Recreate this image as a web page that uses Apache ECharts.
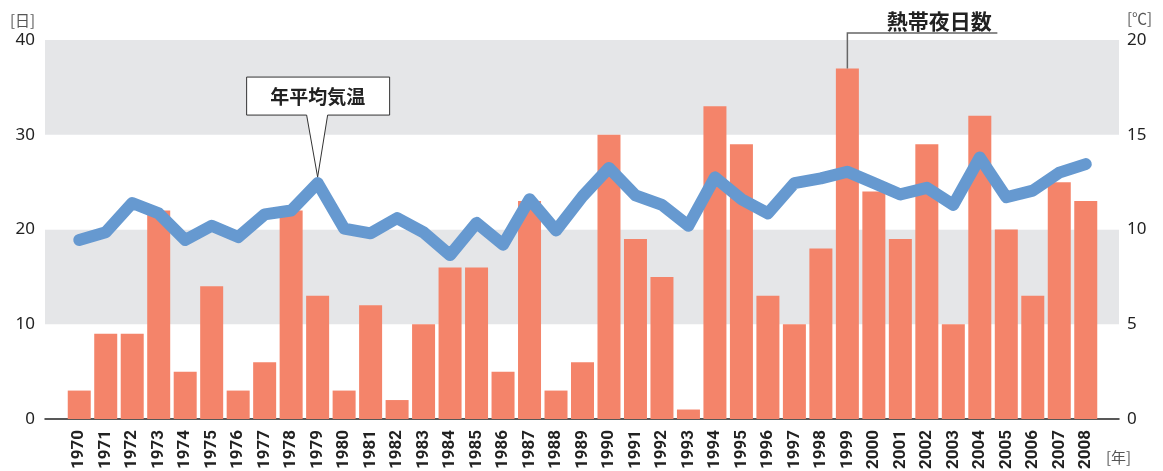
<!DOCTYPE html>
<html>
<head>
<meta charset="utf-8">
<script src="https://cdn.jsdelivr.net/npm/echarts@6/dist/echarts.min.js"></script>
<style>
html, body { margin: 0; padding: 0; background: #fff; }
#chart { width: 1163px; height: 471px; }
</style>
</head>
<body>
<div id="chart"></div>
<script>
var years = ['1970','1971','1972','1973','1974','1975','1976','1977','1978','1979',
    '1980','1981','1982','1983','1984','1985','1986','1987','1988','1989',
    '1990','1991','1992','1993','1994','1995','1996','1997','1998','1999',
    '2000','2001','2002','2003','2004','2005','2006','2007','2008'];
// 熱帯夜日数 [日]
var nights = [3, 9, 9, 22, 5, 14, 3, 6, 22, 13,
    3, 12, 2, 10, 16, 16, 5, 23, 3, 6,
    30, 19, 15, 1, 33, 29, 13, 10, 18, 37,
    24, 19, 29, 10, 32, 20, 13, 25, 23];
// 年平均気温 [℃]
var temps = [9.45, 9.85, 11.4, 10.85, 9.45, 10.2, 9.6, 10.8, 11.0, 12.45,
    10.05, 9.8, 10.6, 9.85, 8.65, 10.35, 9.2, 11.6, 9.95, 11.75,
    13.25, 11.8, 11.3, 10.2, 12.75, 11.6, 10.85, 12.45, 12.7, 13.05,
    12.45, 11.85, 12.2, 11.3, 13.8, 11.7, 12.05, 13.0, 13.45];

var barColor = '#f4846a';
var lineColor = '#6699d0';
var bandColor = '#e5e6e8';

var myChart = echarts.init(document.getElementById('chart'));

var tickLabel = { color: '#222', fontSize: 17, fontFamily: 'Noto Sans' };

var option = {
    animation: false,
    grid: [
        { left: 45, right: 44, top: 40, bottom: 52, containLabel: false, outerBoundsMode: 'none' },
        { left: 66, right: 64, top: 40, bottom: 52, containLabel: false, outerBoundsMode: 'none' }
    ],
    xAxis: [
        {
            gridIndex: 0, type: 'category', data: years,
            axisLine: { lineStyle: { color: '#222', width: 1.5 } },
            axisTick: { show: false },
            axisLabel: { show: false }
        },
        {
            gridIndex: 1, type: 'category', data: years,
            axisLine: { show: false },
            axisTick: { show: false },
            axisLabel: {
                interval: 0, rotate: 90, margin: 11,
                color: '#222', fontSize: 17, fontWeight: 'bold',
                fontFamily: 'Roboto'
            }
        }
    ],
    yAxis: [
        {
            gridIndex: 0, type: 'value', min: 0, max: 40, interval: 10, position: 'left',
            axisLine: { show: false }, axisTick: { show: false },
            splitLine: { show: false },
            splitArea: { show: true, areaStyle: { color: ['#ffffff', bandColor] } },
            axisLabel: Object.assign({ margin: 10 }, tickLabel)
        },
        {
            gridIndex: 0, type: 'value', min: 0, max: 20, interval: 5, position: 'right',
            axisLine: { show: false }, axisTick: { show: false },
            splitLine: { show: false },
            axisLabel: Object.assign({ margin: 8 }, tickLabel)
        },
        { gridIndex: 1, type: 'value', min: 0, max: 40, show: false },
        { gridIndex: 1, type: 'value', min: 0, max: 20, show: false }
    ],
    series: [
        {
            name: '熱帯夜日数',
            type: 'bar',
            xAxisIndex: 1, yAxisIndex: 2,
            barWidth: 23,
            itemStyle: { color: barColor },
            data: nights,
            z: 2
        },
        {
            name: '年平均気温',
            type: 'line',
            xAxisIndex: 1, yAxisIndex: 3,
            showSymbol: false,
            symbol: 'none',
            lineStyle: { color: lineColor, width: 12, cap: 'round', join: 'round' },
            data: temps,
            z: 3
        }
    ]
};

myChart.setOption(option);

// callouts anchored on the data
var tp = myChart.convertToPixel({ seriesIndex: 1 }, [9, temps[9]]);
var ax = tp[0], ay = tp[1] - 6;
var bTop = ay - 100, bBot = ay - 62;
var bp = myChart.convertToPixel({ seriesIndex: 0 }, [29, nights[29]]);
var bx = bp[0], by = bp[1];

myChart.setOption({
    graphic: [
        {
            type: 'polygon', z: 100,
            shape: { points: [[ax - 71, bTop], [ax + 72, bTop], [ax + 72, bBot], [ax + 10, bBot],
                [ax, ay], [ax - 11, bBot], [ax - 71, bBot]] },
            style: { fill: '#fff', stroke: '#333', lineWidth: 1 }
        },
        {
            type: 'text', z: 101,
            x: ax, y: (bTop + bBot) / 2 + 1,
            style: { text: '年平均気温', fill: '#222', fontSize: 19, fontWeight: 'bold',
                fontFamily: '"Noto Sans CJK JP"', align: 'center', verticalAlign: 'middle' }
        },
        {
            type: 'polyline', z: 100,
            shape: { points: [[bx, by], [bx, 33], [bx + 150, 33]] },
            style: { stroke: '#666', lineWidth: 1.5, fill: null }
        },
        {
            type: 'text', z: 101,
            x: bx + 92, y: 21,
            style: { text: '熱帯夜日数', fill: '#222', fontSize: 21, fontWeight: 'bold',
                fontFamily: '"Noto Sans CJK JP"', align: 'center', verticalAlign: 'middle' }
        },
        {
            type: 'text', x: 10, y: 20,
            style: { text: '[日]', fill: '#555', fontSize: 15, fontFamily: '"Noto Sans CJK JP"', verticalAlign: 'middle' }
        },
        {
            type: 'text', x: 1127, y: 18,
            style: { text: '[℃]', fill: '#555', fontSize: 15, fontFamily: '"Noto Sans CJK JP"', verticalAlign: 'middle' }
        },
        {
            type: 'text', x: 1106, y: 457,
            style: { text: '[年]', fill: '#555', fontSize: 15, fontFamily: '"Noto Sans CJK JP"', verticalAlign: 'middle' }
        }
    ]
});
</script>
</body>
</html>
